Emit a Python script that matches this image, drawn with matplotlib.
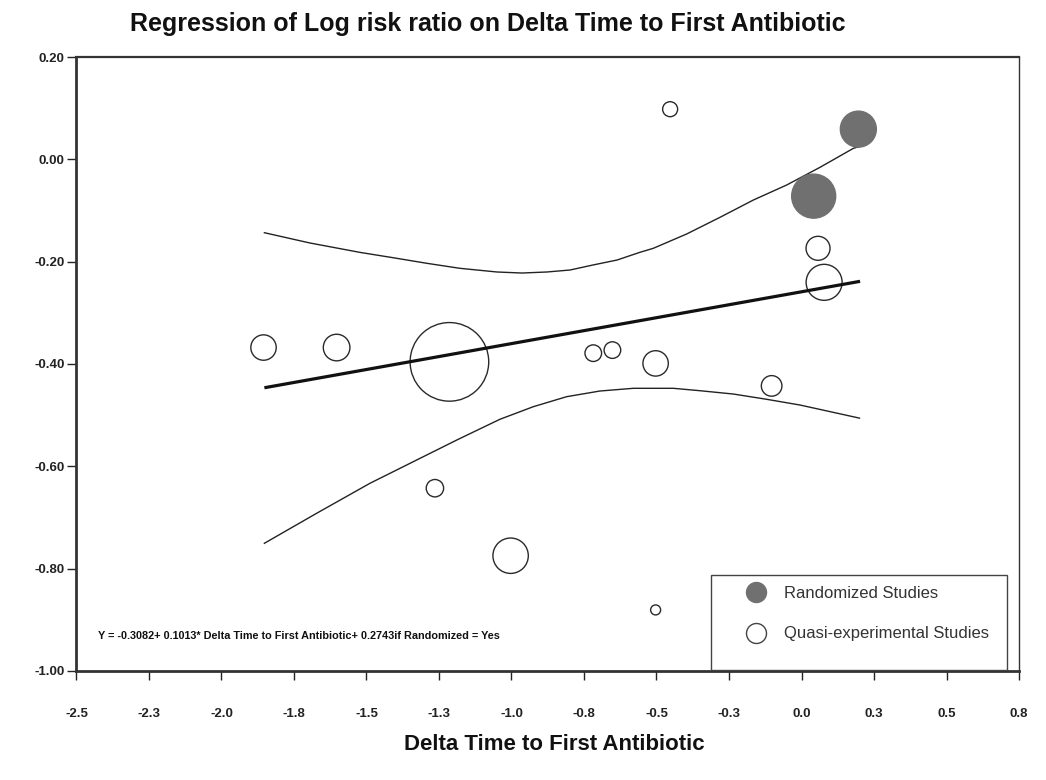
import matplotlib
matplotlib.use("Agg")
import matplotlib.pyplot as plt
from matplotlib.patches import Rectangle
from matplotlib.lines import Line2D

# ---------------- data ----------------
rand_x = [0.196, 0.042]
rand_y = [0.059, -0.072]
rand_w = [12.96, 19.36]

quasi_x = [-0.453, 0.057, 0.078, -1.855, -1.603, -1.214, -0.718, -0.652, -0.503, -0.103, -1.264, -1.003, -0.503]
quasi_y = [0.098, -0.174, -0.2405, -0.368, -0.368, -0.396, -0.379, -0.373, -0.399, -0.443, -0.643, -0.775, -0.881]
quasi_w = [2.25, 5.76, 12.96, 6.45, 7.08, 61.8, 2.76, 2.76, 6.45, 4.24, 3.03, 12.53, 1.0]

reg_x = [-1.852, 0.202]
reg_slope = 0.1013
reg_intercept = -0.259

upper_x = [-1.852, -1.695, -1.522, -1.408, -1.292, -1.178, -1.050, -0.964, -0.878, -0.798,
           -0.719, -0.636, -0.557, -0.511, -0.396, -0.281, -0.166, -0.051, 0.064, 0.179, 0.2]
upper_y = [-0.1435, -0.1636, -0.182, -0.1924, -0.2033, -0.2131, -0.2203, -0.2223, -0.2203, -0.2164,
           -0.2066, -0.1969, -0.1818, -0.174, -0.146, -0.1134, -0.0796, -0.0502, -0.0156, 0.0215, 0.025]
lower_x = [-1.852, -1.672, -1.488, -1.327, -1.185, -1.040, -0.925, -0.810, -0.695, -0.580,
           -0.442, -0.350, -0.235, -0.120, -0.005, 0.2]
lower_y = [-0.7507, -0.6921, -0.6334, -0.5879, -0.5478, -0.5083, -0.4837, -0.4641, -0.453, -0.4477,
           -0.4477, -0.4524, -0.4589, -0.4692, -0.4804, -0.506]

x_ticks = [-2.5, -2.25, -2.0, -1.75, -1.5, -1.25, -1.0, -0.75, -0.5, -0.25, 0.0, 0.25, 0.5, 0.75]
x_tick_labels = ["-2.5", "-2.3", "-2.0", "-1.8", "-1.5", "-1.3", "-1.0", "-0.8", "-0.5", "-0.3",
                 "0.0", "0.3", "0.5", "0.8"]
y_ticks = [0.2, 0.0, -0.2, -0.4, -0.6, -0.8, -1.0]
y_tick_labels = ["0.20", "0.00", "-0.20", "-0.40", "-0.60", "-0.80", "-1.00"]

title = "Regression of Log risk ratio on Delta Time to First Antibiotic"
xlabel = "Delta Time to First Antibiotic"
equation = "Y = -0.3082+ 0.1013* Delta Time to First Antibiotic+ 0.2743if Randomized = Yes"
legend_labels = ["Randomized Studies", "Quasi-experimental Studies"]

# ---------------- figure ----------------
DPI = 100
fig = plt.figure(figsize=(10.46, 7.8), dpi=DPI)
ax = fig.add_axes([0.0731, 0.14, 0.9011, 0.7869])

px2pt = 72.0 / DPI
unit_s = (10 * px2pt) ** 2   # weight 1 -> bubble radius of 5 px

sans = ["Liberation Sans", "DejaVu Sans"]

ax.plot(upper_x, upper_y, color="#222222", lw=1.0, zorder=2)
ax.plot(lower_x, lower_y, color="#222222", lw=1.0, zorder=2)
ax.plot(reg_x, [reg_intercept + reg_slope * v for v in reg_x], color="#111111", lw=2.3,
        solid_capstyle="butt", zorder=4)

ax.scatter(quasi_x, quasi_y, s=[w * unit_s for w in quasi_w], facecolors="none",
           edgecolors="#2a2a2a", linewidths=1.0, zorder=3)
ax.scatter(rand_x, rand_y, s=[w * unit_s for w in rand_w], facecolors="#707070",
           edgecolors="#707070", linewidths=1.0, zorder=3)

ax.set_xlim(-2.5, 0.75)
ax.set_ylim(-1.0, 0.2)
ax.set_xticks(x_ticks)
ax.set_xticklabels(x_tick_labels, fontfamily=sans, fontweight="bold", fontsize=9.5)
ax.set_yticks(y_ticks)
ax.set_yticklabels(y_tick_labels, fontfamily=sans, fontweight="bold", fontsize=9.5)
ax.tick_params(axis="x", direction="out", length=6.5, width=1.0, pad=20, colors="#222222")
ax.tick_params(axis="y", direction="out", length=6.5, width=1.0, pad=2, colors="#222222")

for side, lw in [("left", 2.0), ("bottom", 2.0), ("top", 1.6), ("right", 1.0)]:
    ax.spines[side].set_linewidth(lw)
    ax.spines[side].set_color("#333333")

fig.text(0.4665, 0.969, title, ha="center", va="center", fontsize=18, fontweight="bold",
         family=sans, color="#111111")
fig.text(0.530, 0.045, xlabel, ha="center", va="center", fontsize=16, fontweight="bold",
         family=sans, color="#111111")

ax.text(0.0228, 0.0567, equation, transform=ax.transAxes, ha="left", va="center",
        fontsize=7.8, fontweight="bold", family=sans, color="#111111")

# legend box
ax.add_patch(Rectangle((0.673, 0.0015), 0.3146, 0.1546, transform=ax.transAxes,
                       facecolor="white", edgecolor="#444444", lw=1.0, zorder=5))
handles = [
    Line2D([], [], ls="none", marker="o", markersize=20 * px2pt, markerfacecolor="#707070",
           markeredgecolor="#707070"),
    Line2D([], [], ls="none", marker="o", markersize=20 * px2pt, markerfacecolor="white",
           markeredgecolor="#444444", markeredgewidth=1.0),
]
leg = ax.legend(handles, legend_labels, loc="upper left", bbox_to_anchor=(0.6944, 0.1546),
                frameon=False, prop={"family": sans, "size": 12}, labelcolor="#333333",
                handletextpad=0.78, labelspacing=1.55, borderpad=0.08, handlelength=1.8)
leg.set_zorder(6)

fig.savefig("out.png", dpi=DPI)
